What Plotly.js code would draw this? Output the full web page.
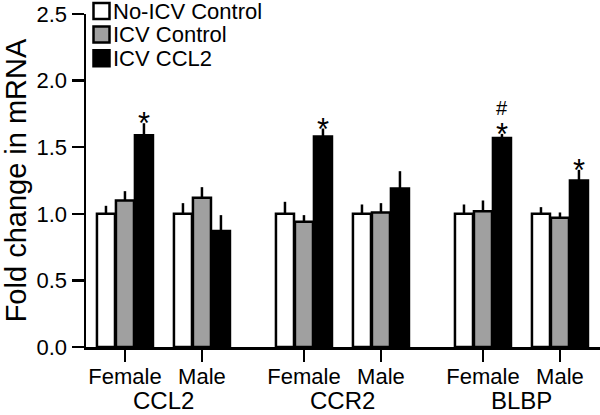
<!DOCTYPE html>
<html>
<head>
<meta charset="utf-8">
<script src="https://cdn.plot.ly/plotly-3.0.1.min.js"></script>
<style>html,body{margin:0;padding:0;background:#fff;}#chart{width:600px;height:415px;}</style>
</head>
<body>
<div id="chart"></div>
<script>
// ---- data ----
const genes = ["CCL2", "CCR2", "BLBP"];
const sexes = ["Female", "Male"];
const seriesNames = ["No-ICV Control", "ICV Control", "ICV CCL2"];
// values ordered: CCL2-F, CCL2-M, CCR2-F, CCR2-M, BLBP-F, BLBP-M
const noIcvControl = [1.00, 1.00, 1.00, 1.00, 1.00, 1.00];
const noIcvErr     = [0.06, 0.08, 0.09, 0.07, 0.07, 0.05];
const icvControl   = [1.10, 1.12, 0.94, 1.01, 1.02, 0.97];
const icvCtrlErr   = [0.07, 0.08, 0.05, 0.07, 0.08, 0.04];
const icvCCL2      = [1.59, 0.87, 1.58, 1.19, 1.57, 1.25];
const icvCCL2Err   = [0.09, 0.12, 0.06, 0.13, 0.03, 0.08];
// significance marks above ICV CCL2 bars
const starMarks    = ["*", "", "*", "", "*", "*"];
const hashMarks    = ["", "", "", "", "#", ""];
const yTicks = [0.0, 0.5, 1.0, 1.5, 2.0, 2.5];
const yTickText = ["0.0", "0.5", "1.0", "1.5", "2.0", "2.5"];

// ---- layout helpers ----
const FONT = "Liberation Sans, Arial, Helvetica, sans-serif";
const W = 600, H = 415, M = {l: 86, r: 0, t: 14, b: 68};
const pw = W - M.l - M.r, ph = H - M.t - M.b;
const px2x = p => (p - M.l) / pw;
const px2y = p => (H - M.b - p) / ph;

const groupSpacing = 2.325;
const xs = [], xt = [];
genes.forEach((g, gi) => sexes.forEach((s, si) => { xs.push(gi * groupSpacing + si); xt.push(s); }));
const bargap = 0.26;
const slot = (1 - bargap) / 3;

const fills = ["#ffffff", "#a0a0a0", "#000000"];
const vals = [noIcvControl, icvControl, icvCCL2];
const errs = [noIcvErr, icvCtrlErr, icvCCL2Err];

const traces = seriesNames.map((n, i) => ({
  type: "bar", name: n, x: xs, y: vals[i],
  marker: {color: fills[i], line: {color: "#000", width: 2.5}},
  error_y: {type: "data", array: errs[i], arrayminus: errs[i].map(() => 0), symmetric: false,
            color: "#000", thickness: 2.5, width: 0},
  showlegend: false,
  hoverinfo: "skip"
}));

const annotations = [];
const shapes = [];
starMarks.forEach((m, i) => {
  if (!m) return;
  annotations.push({x: xs[i] + slot, y: icvCCL2[i] + icvCCL2Err[i], xref: "x", yref: "y",
    text: m, showarrow: false, yanchor: "bottom", yshift: -19, borderpad: 0,
    font: {family: FONT, size: 31, color: "#000"}});
});
hashMarks.forEach((m, i) => {
  if (!m) return;
  annotations.push({x: xs[i] + slot, y: icvCCL2[i] + icvCCL2Err[i], xref: "x", yref: "y",
    text: m, showarrow: false, yanchor: "bottom", yshift: 14, borderpad: 0,
    font: {family: FONT, size: 20, color: "#000"}});
});
genes.forEach((g, gi) => {
  annotations.push({x: gi * groupSpacing + 0.5, y: -0.118, xref: "x", yref: "paper",
    text: g, showarrow: false, yanchor: "top", borderpad: 0,
    font: {family: FONT, size: 24, color: "#000"}});
});

// custom legend (square swatch + label), stacked rows
const legTop = 3, legRow = 23.6, legSq = 16, legLeft = 93.5;
seriesNames.forEach((n, i) => {
  const top = legTop + i * legRow;
  shapes.push({type: "rect", xref: "paper", yref: "paper",
    x0: px2x(legLeft), x1: px2x(legLeft + legSq), y0: px2y(top + legSq), y1: px2y(top),
    fillcolor: fills[i], line: {color: "#000", width: 2.5}});
  annotations.push({xref: "paper", yref: "paper", x: px2x(legLeft + legSq + 2), y: px2y(top + legSq / 2),
    xanchor: "left", yanchor: "middle", text: n, showarrow: false, borderpad: 0,
    font: {family: FONT, size: 22, color: "#000"}});
});

const layout = {
  width: W, height: H,
  margin: M,
  paper_bgcolor: "#fff", plot_bgcolor: "#fff",
  font: {family: FONT, color: "#000", size: 22},
  barmode: "group", bargap: bargap, bargroupgap: 0.05,
  showlegend: false,
  xaxis: {range: [-0.506, 6.17], tickmode: "array", tickvals: xs, ticktext: xt,
          showline: true, linecolor: "#000", linewidth: 2.5, ticks: "outside", ticklen: 12,
          tickwidth: 2.5, tickcolor: "#000", showgrid: false, zeroline: false,
          tickfont: {size: 22}, ticklabelstandoff: -4},
  yaxis: {range: [0, 2.5], tickmode: "array", tickvals: yTicks, ticktext: yTickText,
          showline: true, linecolor: "#000", linewidth: 2.5, ticks: "outside", ticklen: 12,
          tickwidth: 2.5, tickcolor: "#000", showgrid: false, zeroline: false,
          tickfont: {size: 22},
          title: {text: "Fold change in mRNA", font: {size: 29}, standoff: 13}},
  shapes: shapes,
  annotations: annotations
};

Plotly.newPlot("chart", traces, layout, {displayModeBar: false, staticPlot: true});
</script>
</body>
</html>
